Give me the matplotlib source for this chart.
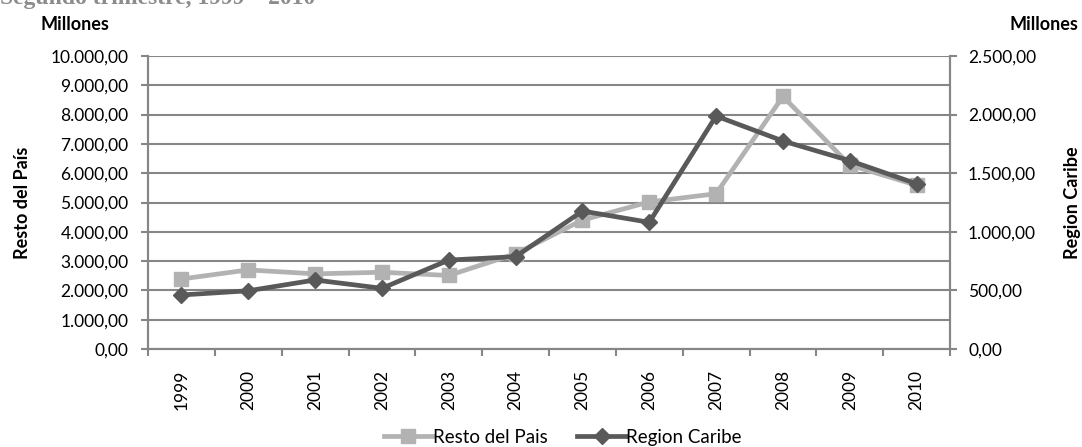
import matplotlib.pyplot as plt
import numpy as np

years = ['1999', '2000', '2001', '2002', '2003', '2004',
         '2005', '2006', '2007', '2008', '2009', '2010']
resto_pais = [2390, 2700, 2565, 2620, 2510, 3250,
              4400, 5020, 5300, 8620, 6280, 5590]
region_caribe = [461, 497, 589, 518, 759, 788,
                 1177, 1081, 1988, 1775, 1607, 1410]

left_ticks = np.arange(0, 10001, 1000)
right_ticks = np.arange(0, 2501, 500)


def fmt_es(v):
    s = '{:,.2f}'.format(v)
    return s.replace(',', 'X').replace('.', ',').replace('X', '.')


plt.rcParams['font.family'] = ['Lato', 'DejaVu Sans']
grid_c = '#868686'
light = '#b2b2b2'
dark = '#595959'

fig = plt.figure(figsize=(10.82, 4.47), dpi=100)
ax = fig.add_axes([0.1368, 0.2192, 0.7412, 0.6555])
ax2 = ax.twinx()

x = np.arange(len(years))
l1, = ax.plot(x, resto_pais, color=light, lw=3.4, marker='s', ms=9.5,
              label='Resto del Pais', zorder=3)
l2, = ax2.plot(x, region_caribe, color=dark, lw=3.4, marker='D', ms=8,
               label='Region Caribe', zorder=4)

ax.set_xlim(-0.5, len(years) - 0.5)
ax.set_ylim(0, 10000)
ax2.set_ylim(0, 2500)

ax.set_yticks(left_ticks)
ax.set_yticklabels([fmt_es(v) for v in left_ticks])
ax2.set_yticks(right_ticks)
ax2.set_yticklabels([fmt_es(v) for v in right_ticks])

ax.set_xticks(x)
ax.set_xticklabels(years, rotation=90)
ax.set_xticks(np.arange(-0.5, len(years) + 0.5, 1), minor=True)
ax.tick_params(axis='x', which='major', length=0, pad=15, labelsize=12.5)
ax.tick_params(axis='x', which='minor', length=5, width=1.5, color=grid_c)
ax.tick_params(axis='y', length=5, width=1.5, color=grid_c, labelsize=12.5, pad=9)
ax2.tick_params(axis='y', length=5, width=1.5, color=grid_c, labelsize=12.5, pad=8)

ax.yaxis.grid(True, color=grid_c, lw=1.5)
ax.set_axisbelow(True)

for a in (ax, ax2):
    for s in a.spines.values():
        s.set_color(grid_c)
        s.set_linewidth(1.5)
    a.spines['top'].set_visible(False)

ax.set_ylabel('Resto del País', fontsize=13, fontweight='bold', labelpad=14)
ax2.set_ylabel('Region Caribe', fontsize=13, fontweight='bold', labelpad=20)

fig.text(0.037, 0.946, 'Millones', fontsize=13, fontweight='bold', ha='left', va='center')
fig.text(0.933, 0.946, 'Millones', fontsize=13, fontweight='bold', ha='left', va='center')

# title partly cropped at the top edge, as in the source image
fig.text(0.0, 1 - 4 / 447, 'Segundo trimestre, 1999 – 2010', fontsize=17,
         fontweight='bold', family='Liberation Serif', color='#8c8c8c',
         ha='left', va='baseline')

fig.legend(handles=[l1, l2], loc='center', bbox_to_anchor=(0.52, 0.022), ncol=2,
           frameon=False, fontsize=13.5, handlelength=2.6, handletextpad=0.0,
           columnspacing=1.6, borderpad=0)

fig.savefig('out.png', dpi=100)
